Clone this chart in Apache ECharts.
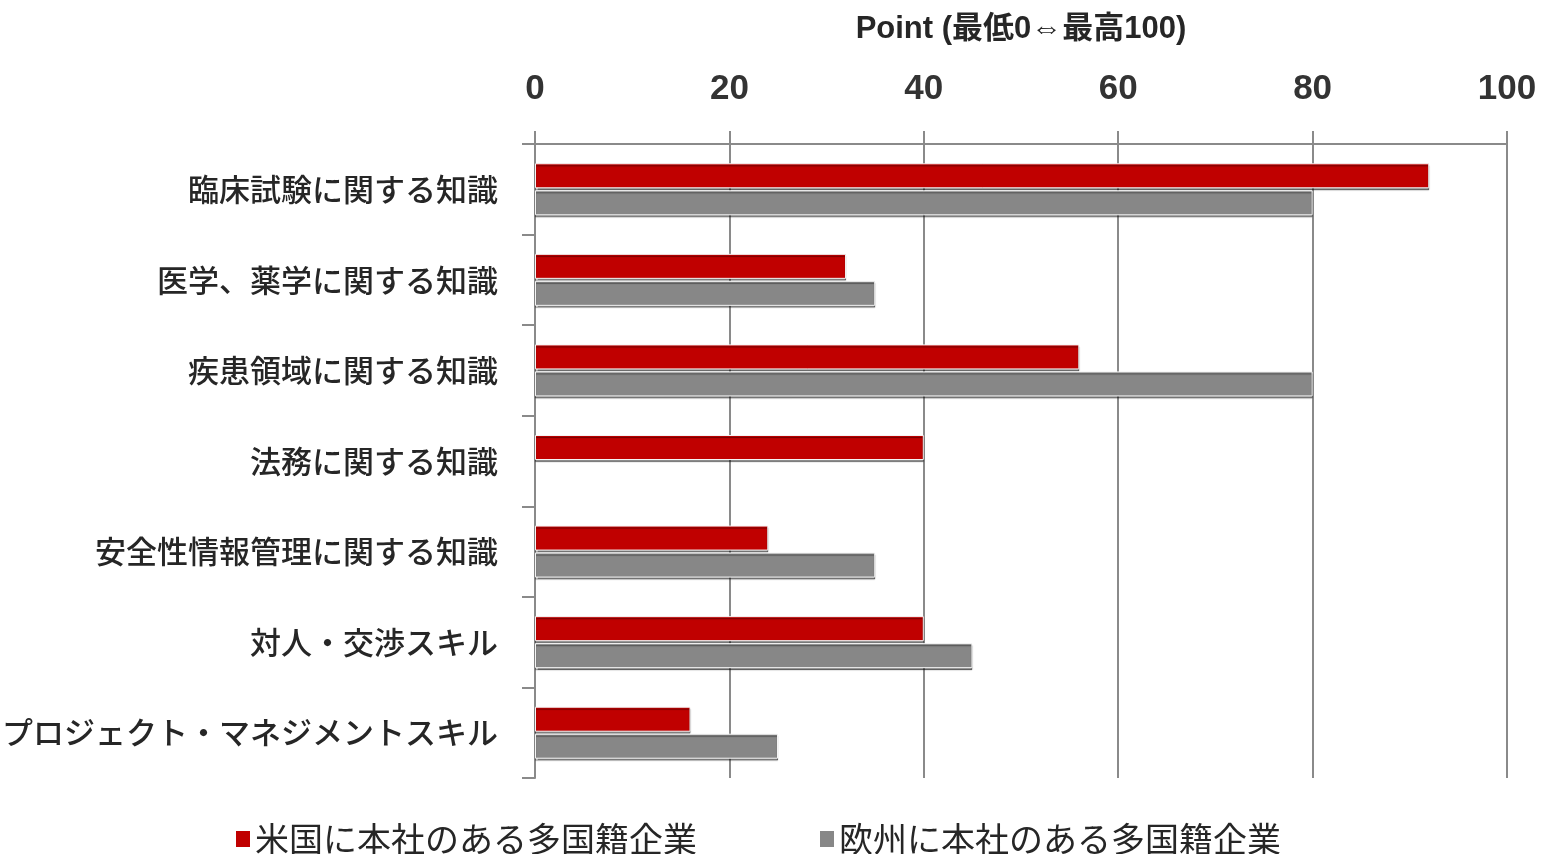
<!DOCTYPE html>
<html>
<head>
<meta charset="utf-8">
<script src="https://cdn.jsdelivr.net/npm/echarts@6/dist/echarts.min.js"></script>
<style>
  html, body { margin: 0; padding: 0; background: #ffffff; }
  #chart { width: 1543px; height: 854px; }
</style>
</head>
<body>
<div id="chart"></div>
<script>
// Skill categories, top to bottom
const categories = [
  '臨床試験に関する知識',
  '医学、薬学に関する知識',
  '疾患領域に関する知識',
  '法務に関する知識',
  '安全性情報管理に関する知識',
  '対人・交渉スキル',
  'プロジェクト・マネジメントスキル'
];

const seriesNames = ['米国に本社のある多国籍企業', '欧州に本社のある多国籍企業'];

// Scores (0 = lowest, 100 = highest)
const usValues = [92, 32, 56, 40, 24, 40, 16];
const euValues = [80, 35, 80, null, 35, 45, 25];

const axisTitle = 'Point (最低0⇔最高100)';

const gridColor = '#8a8a8a';
const textColor = '#262626';
const cjkFont = '"Noto Sans CJK JP", "Noto Sans", sans-serif';
const latinFont = '"Liberation Sans", Arial, "Noto Sans CJK JP", sans-serif';

const barStyle = (color) => ({
  color: color,
  borderColor: '#f4f4f4',
  borderWidth: 1,
  shadowColor: 'rgba(0,0,0,0.45)',
  shadowBlur: 1,
  shadowOffsetX: 0,
  shadowOffsetY: 2
});

const chart = echarts.init(document.getElementById('chart'), null, { renderer: 'canvas' });

chart.setOption({
  backgroundColor: '#ffffff',
  animation: false,
  grid: {
    left: 535, right: 36, top: 144, bottom: 76,
    containLabel: false,
    outerBoundsMode: 'none'
  },
  legend: {
    left: 236,
    top: 822,
    padding: 0,
    itemWidth: 14,
    itemHeight: 16,
    itemGap: 123,
    icon: 'rect',
    itemStyle: { borderWidth: 0, shadowBlur: 0, shadowOffsetY: 0, shadowColor: 'transparent' },
    textStyle: { fontFamily: cjkFont, fontSize: 34, color: textColor },
    data: seriesNames
  },
  xAxis: {
    type: 'value',
    position: 'top',
    min: 0,
    max: 100,
    interval: 20,
    name: axisTitle,
    nameLocation: 'middle',
    nameGap: 99,
    nameTextStyle: { fontFamily: latinFont, fontSize: 31, fontWeight: 'bold', color: textColor },
    axisLine: { show: true, lineStyle: { color: gridColor, width: 2 } },
    axisTick: { show: true, length: 13, lineStyle: { color: gridColor, width: 2 } },
    axisLabel: { margin: 37, fontFamily: latinFont, fontSize: 35, fontWeight: 'bold', color: '#333333' },
    splitLine: { show: true, lineStyle: { color: gridColor, width: 2 } }
  },
  yAxis: {
    type: 'category',
    inverse: true,
    data: categories,
    axisLine: { show: true, lineStyle: { color: gridColor, width: 2 } },
    axisTick: { show: true, length: 13, alignWithLabel: false, lineStyle: { color: gridColor, width: 2 } },
    axisLabel: { margin: 37, fontFamily: cjkFont, fontSize: 31, fontWeight: 500, color: textColor },
    splitLine: { show: false }
  },
  series: [
    {
      name: seriesNames[0],
      type: 'bar',
      data: usValues,
      barWidth: 25,
      barGap: '8%',
      itemStyle: barStyle('#c00000')
    },
    {
      name: seriesNames[1],
      type: 'bar',
      data: euValues,
      barWidth: 25,
      itemStyle: barStyle('#878787')
    }
  ]
});
</script>
</body>
</html>
